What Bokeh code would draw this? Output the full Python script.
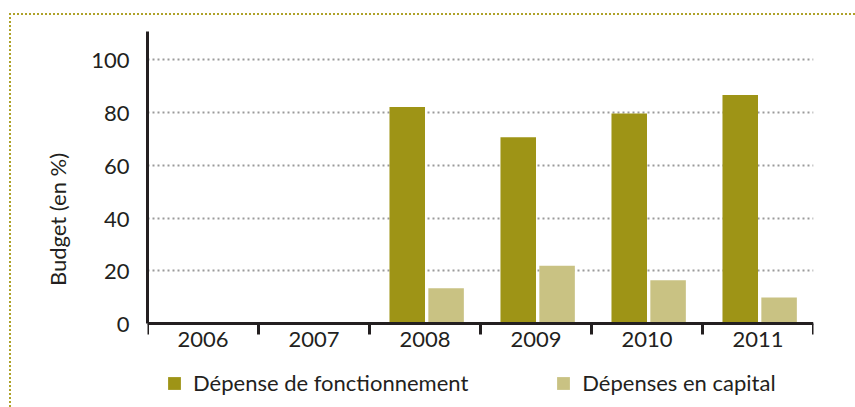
import math
from bokeh.plotting import figure
from bokeh.layouts import column
from bokeh.models import (ColumnDataSource, FixedTicker, Legend, LegendItem,
                          Range1d, Title)
from bokeh.transform import dodge
from bokeh.embed import file_html
from bokeh.resources import INLINE

nan = float("nan")
years = ["2006", "2007", "2008", "2009", "2010", "2011"]
fonctionnement = [nan, nan, 82, 70.5, 79.5, 86.5]
capital = [nan, nan, 13.5, 22, 16.5, 10]
y_ticks = [0, 20, 40, 60, 80, 100]
y_label = "Budget (en %)"
labels = ["Dépense de fonctionnement", "Dépenses en capital"]

centers = [i + 0.5 for i in range(len(years))]
bounds = [i for i in range(len(years) + 1)]

src = ColumnDataSource(dict(x=centers, f=fonctionnement, c=capital))

FONT = "Lato"
FS = "22px"
DARK = "#231f20"
C_F = "#9e9416"
C_C = "#c9c283"
BORDER = "#aea22a"

p = figure(width=844, height=392, output_backend="svg", toolbar_location=None,
           x_range=Range1d(0, len(years)), y_range=Range1d(-31.6, 110.5),
           min_border_left=136, min_border_right=42, min_border_top=16,
           min_border_bottom=0)
p.outline_line_color = None

rf = p.vbar(x=dodge("x", -0.16), top="f", width=0.32, source=src,
            fill_color=C_F, line_color=None)
rc = p.vbar(x=dodge("x", 0.19), top="c", width=0.32, source=src,
            fill_color=C_C, line_color=None)

# x axis (drawn at y = 0 inside the frame)
xa = p.xaxis[0]
xa.fixed_location = 0
xa.ticker = FixedTicker(ticks=centers, minor_ticks=bounds)
xa.major_label_overrides = {c: y for c, y in zip(centers, years)}
xa.major_tick_line_color = None
xa.major_tick_in = 0
xa.major_tick_out = 0
xa.minor_tick_in = 0
xa.minor_tick_out = 11
xa.minor_tick_line_width = 3
xa.minor_tick_line_color = DARK
xa.axis_line_width = 3
xa.axis_line_color = DARK
xa.major_label_text_font = FONT
xa.major_label_text_font_size = FS
xa.major_label_text_color = DARK
xa.major_label_standoff = -3

# y axis (leading en space only widens the label column)
ya = p.yaxis[0]
ya.bounds = (0, 110.5)
ya.ticker = FixedTicker(ticks=y_ticks)
ya.major_label_overrides = {v: "\u2002" + str(v) for v in y_ticks}
ya.major_tick_line_color = None
ya.major_tick_in = 0
ya.major_tick_out = 0
ya.minor_tick_line_color = None
ya.axis_line_width = 3
ya.axis_line_color = DARK
ya.major_label_text_font = FONT
ya.major_label_text_font_size = FS
ya.major_label_text_color = DARK
ya.major_label_standoff = 18

t = Title(text=y_label, align="center", offset=42, vertical_align="top",
          text_font=FONT, text_font_size=FS, text_font_style="normal",
          text_color=DARK)
p.add_layout(t, "left")

p.xgrid.grid_line_color = None
p.ygrid.ticker = FixedTicker(ticks=y_ticks[1:])
p.ygrid.grid_line_color = "#9a9a9a"
p.ygrid.grid_line_width = 2
p.ygrid.grid_line_dash = "2 3"

legend = Legend(items=[LegendItem(label=labels[0], renderers=[rf]),
                       LegendItem(label=labels[1], renderers=[rc])],
                orientation="horizontal", location=(19, 11),
                glyph_width=16, glyph_height=16, label_standoff=11,
                spacing=87, margin=0, padding=0,
                label_text_font=FONT, label_text_font_size=FS,
                label_text_color=DARK, border_line_color=None,
                background_fill_alpha=0)
p.add_layout(legend, "center")

root = column(p, styles={"margin-top": "13px", "margin-left": "9px",
                         "border-top": f"2px dotted {BORDER}",
                         "border-left": f"2px dotted {BORDER}"})

open("out.html", "w").write(file_html(root, INLINE))
